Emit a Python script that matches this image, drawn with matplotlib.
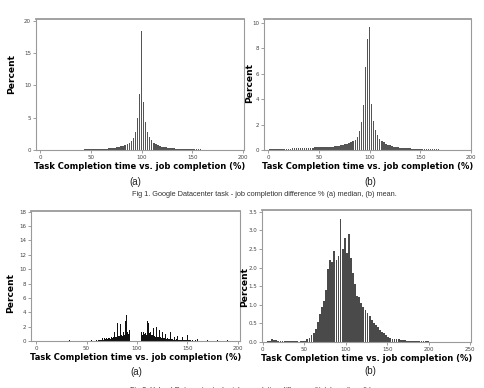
import numpy as np
import matplotlib
matplotlib.use('Agg')
import matplotlib.pyplot as plt

XLABEL = 'Task Completion time vs. job completion (%)'
CAPTION1 = 'Fig 1. Google Datacenter task - job completion difference % (a) median, (b) mean.'
CAPTION2 = 'Fig 2. Yahoo! Datacenter task - job completion difference % (a) median, (b) mean.'

# Fig 1 (a) median: bins of width 2, centers 0..198
g_median_centers = np.arange(0, 200, 2)
g_median = [
    0.02, 0.05, 0.06, 0.06, 0.06, 0.06, 0.06, 0.06, 0.06, 0.06,
    0.06, 0.06, 0.06, 0.06, 0.06, 0.07, 0.07, 0.07, 0.07, 0.07,
    0.07, 0.07, 0.08, 0.08, 0.08, 0.09, 0.09, 0.10, 0.12, 0.14,
    0.15, 0.17, 0.19, 0.21, 0.24, 0.27, 0.30, 0.34, 0.39, 0.45,
    0.55, 0.65, 0.75, 0.90, 1.10, 1.40, 1.90, 2.80, 5.00, 8.70,
    18.5, 7.50, 4.40, 2.80, 2.00, 1.50, 1.15, 0.90, 0.75, 0.62,
    0.52, 0.45, 0.40, 0.35, 0.31, 0.28, 0.25, 0.22, 0.20, 0.18,
    0.16, 0.15, 0.13, 0.12, 0.11, 0.10, 0.09, 0.09, 0.08, 0.08,
    0.07, 0.07, 0.06, 0.06, 0.06, 0.05, 0.05, 0.05, 0.05, 0.04,
    0.04, 0.04, 0.04, 0.04, 0.03, 0.03, 0.03, 0.03, 0.03, 0.02,
]

# Fig 1 (b) mean: bins of width 2, centers 0..198
g_mean_centers = np.arange(0, 200, 2)
g_mean = [
    0.00, 0.05, 0.08, 0.10, 0.10, 0.10, 0.10, 0.10, 0.10, 0.10,
    0.11, 0.11, 0.12, 0.12, 0.13, 0.15, 0.16, 0.17, 0.18, 0.18,
    0.18, 0.19, 0.19, 0.20, 0.20, 0.20, 0.21, 0.21, 0.22, 0.23,
    0.24, 0.25, 0.27, 0.30, 0.32, 0.35, 0.37, 0.40, 0.45, 0.50,
    0.55, 0.62, 0.70, 0.80, 1.00, 1.50, 2.20, 3.50, 6.50, 8.70,
    9.70, 3.60, 2.30, 1.60, 1.20, 0.85, 0.70, 0.60, 0.50, 0.42,
    0.36, 0.30, 0.27, 0.24, 0.20, 0.18, 0.16, 0.15, 0.14, 0.13,
    0.12, 0.11, 0.10, 0.09, 0.08, 0.07, 0.06, 0.06, 0.05, 0.05,
    0.05, 0.04, 0.04, 0.04, 0.04, 0.03, 0.03, 0.03, 0.03, 0.03,
    0.02, 0.02, 0.02, 0.02, 0.02, 0.02, 0.02, 0.02, 0.02, 0.02,
]

# Fig 2 (a) median: bins of width 1, centers 0..199
y_median_centers = np.arange(0, 200, 1)
y_median = [
    0.00, 0.00, 0.00, 0.00, 0.00, 0.00, 0.00, 0.00, 0.00, 0.00,
    0.05, 0.00, 0.00, 0.00, 0.00, 0.00, 0.00, 0.00, 0.00, 0.00,
    0.05, 0.00, 0.00, 0.00, 0.00, 0.00, 0.00, 0.00, 0.00, 0.00,
    0.00, 0.00, 0.00, 0.10, 0.00, 0.00, 0.00, 0.00, 0.00, 0.00,
    0.00, 0.00, 0.00, 0.00, 0.00, 0.05, 0.00, 0.00, 0.00, 0.00,
    0.05, 0.00, 0.00, 0.00, 0.00, 0.10, 0.00, 0.00, 0.05, 0.00,
    0.10, 0.05, 0.20, 0.10, 0.15, 0.20, 0.45, 0.20, 0.40, 0.25,
    0.45, 0.30, 0.35, 0.40, 0.30, 0.60, 0.35, 0.50, 1.20, 0.55,
    0.60, 2.50, 0.70, 0.65, 2.40, 0.80, 0.70, 1.20, 0.90, 2.80,
    3.60, 1.30, 1.00, 1.50, 1.30, 0.90, 0.80, 0.70, 0.80, 0.70,
    16.2, 0.60, 0.70, 0.80, 1.20, 0.90, 1.30, 1.00, 1.10, 0.90,
    2.80, 2.50, 1.10, 1.30, 0.80, 0.90, 1.80, 0.70, 0.60, 2.00,
    0.60, 0.50, 1.50, 0.50, 0.40, 1.20, 0.40, 0.35, 1.00, 0.30,
    0.35, 0.30, 0.25, 1.30, 0.30, 0.25, 0.20, 0.60, 0.20, 0.25,
    0.70, 0.20, 0.15, 0.20, 0.15, 0.50, 0.15, 0.10, 0.15, 0.10,
    0.80, 0.10, 0.10, 0.10, 0.05, 0.20, 0.05, 0.05, 0.10, 0.05,
    0.30, 0.05, 0.05, 0.05, 0.05, 0.05, 0.05, 0.05, 0.05, 0.05,
    0.20, 0.05, 0.05, 0.05, 0.05, 0.05, 0.05, 0.05, 0.05, 0.05,
    0.10, 0.05, 0.00, 0.05, 0.00, 0.05, 0.00, 0.05, 0.00, 0.00,
    0.10, 0.00, 0.00, 0.05, 0.00, 0.00, 0.00, 0.05, 0.00, 0.00,
]

# Fig 2 (b) mean: bins of width 2.5, centers 1.25..248.75
y_mean_centers = np.arange(1.25, 250, 2.5)
y_mean = [
    0.00, 0.00, 0.02, 0.02, 0.08, 0.06, 0.05, 0.04, 0.04, 0.04,
    0.03, 0.03, 0.03, 0.03, 0.02, 0.02, 0.02, 0.01, 0.02, 0.02,
    0.04, 0.08, 0.12, 0.18, 0.25, 0.35, 0.55, 0.75, 0.95, 1.10,
    1.40, 1.95, 2.20, 2.15, 2.45, 2.20, 2.30, 3.30, 2.50, 2.80,
    2.40, 2.90, 2.25, 1.85, 1.55, 1.25, 1.20, 1.05, 0.95, 0.85,
    0.78, 0.70, 0.60, 0.52, 0.45, 0.40, 0.33, 0.27, 0.24, 0.18,
    0.13, 0.10, 0.09, 0.08, 0.07, 0.07, 0.06, 0.05, 0.05, 0.04,
    0.04, 0.04, 0.03, 0.03, 0.03, 0.03, 0.02, 0.02, 0.02, 0.02,
    0.01, 0.01, 0.01, 0.01, 0.01, 0.01, 0.01, 0.01, 0.01, 0.01,
    0.01, 0.01, 0.00, 0.01, 0.00, 0.00, 0.01, 0.00, 0.00, 0.00,
]

W, H = 484, 388
fig = plt.figure(figsize=(W / 100, H / 100), dpi=100)


def px_axes(l, t, r, b):
    return fig.add_axes([l / W, 1 - b / H, (r - l) / W, (b - t) / H])


def style(ax, xlim, ylim, xticks, yticks, yfmt):
    ax.set_xlim(*xlim)
    ax.set_ylim(*ylim)
    ax.set_xticks(xticks)
    ax.set_yticks(yticks)
    ax.set_yticklabels([yfmt.format(v) for v in yticks])
    for s in ax.spines.values():
        s.set_color('#9a9a9a')
        s.set_linewidth(0.8)
    ax.spines['top'].set_linewidth(1.3)
    ax.tick_params(length=2, width=0.5, color='#777777', labelsize=4,
                   labelcolor='#444444', pad=1.5)
    ax.set_xlabel(XLABEL, fontsize=6.0, fontweight='bold', labelpad=1.5)


ax1 = px_axes(36, 19, 244, 150)
ax1.bar(g_median_centers, g_median, width=1.6, color='#555555', linewidth=0)
style(ax1, (-4, 201), (0, 20.3), [0, 50, 100, 150, 200], [0, 5, 10, 15, 20], '{:g}')

ax2 = px_axes(264, 19, 471, 150)
ax2.bar(g_mean_centers, g_mean, width=1.6, color='#555555', linewidth=0)
style(ax2, (-4, 200), (0, 10.3), [0, 50, 100, 150, 200], [0, 2, 4, 6, 8, 10], '{:g}')

ax3 = px_axes(31, 211, 240, 341)
ax3.bar(y_median_centers, y_median, width=0.9, color='#111111', linewidth=0)
style(ax3, (-5, 202), (0, 18.1), [0, 50, 100, 150, 200],
      [0, 2, 4, 6, 8, 10, 12, 14, 16, 18], '{:g}')

ax4 = px_axes(262, 210, 471, 342)
ax4.bar(y_mean_centers, y_mean, width=2.2, color='#4a4a4a', linewidth=0)
style(ax4, (-1, 251), (0, 3.55), [0, 50, 100, 150, 200, 250],
      [0, 0.5, 1.0, 1.5, 2.0, 2.5, 3.0, 3.5], '{:.1f}')


def ftext(x, y, s, **kw):
    fig.text(x / W, 1 - y / H, s, **kw)


for x, y in [(12, 74), (250, 83), (11, 293), (245, 287)]:
    ftext(x, y, 'Percent', rotation=90, ha='center', va='center',
          fontsize=6.6, fontweight='bold')

sub = dict(ha='center', va='center', fontsize=7, family='Liberation Sans', color='#222222')
ftext(135, 182, '(a)', **sub)
ftext(370, 182, '(b)', **sub)
ftext(136, 372, '(a)', **sub)
ftext(370, 371, '(b)', **sub)

cap = dict(ha='center', va='center', fontsize=5.3, family='Liberation Sans', color='#333333')
ftext(264, 195, CAPTION1, **cap)
ftext(262, 390, CAPTION2, **cap)

fig.savefig('out.png', dpi=100, facecolor='white')
